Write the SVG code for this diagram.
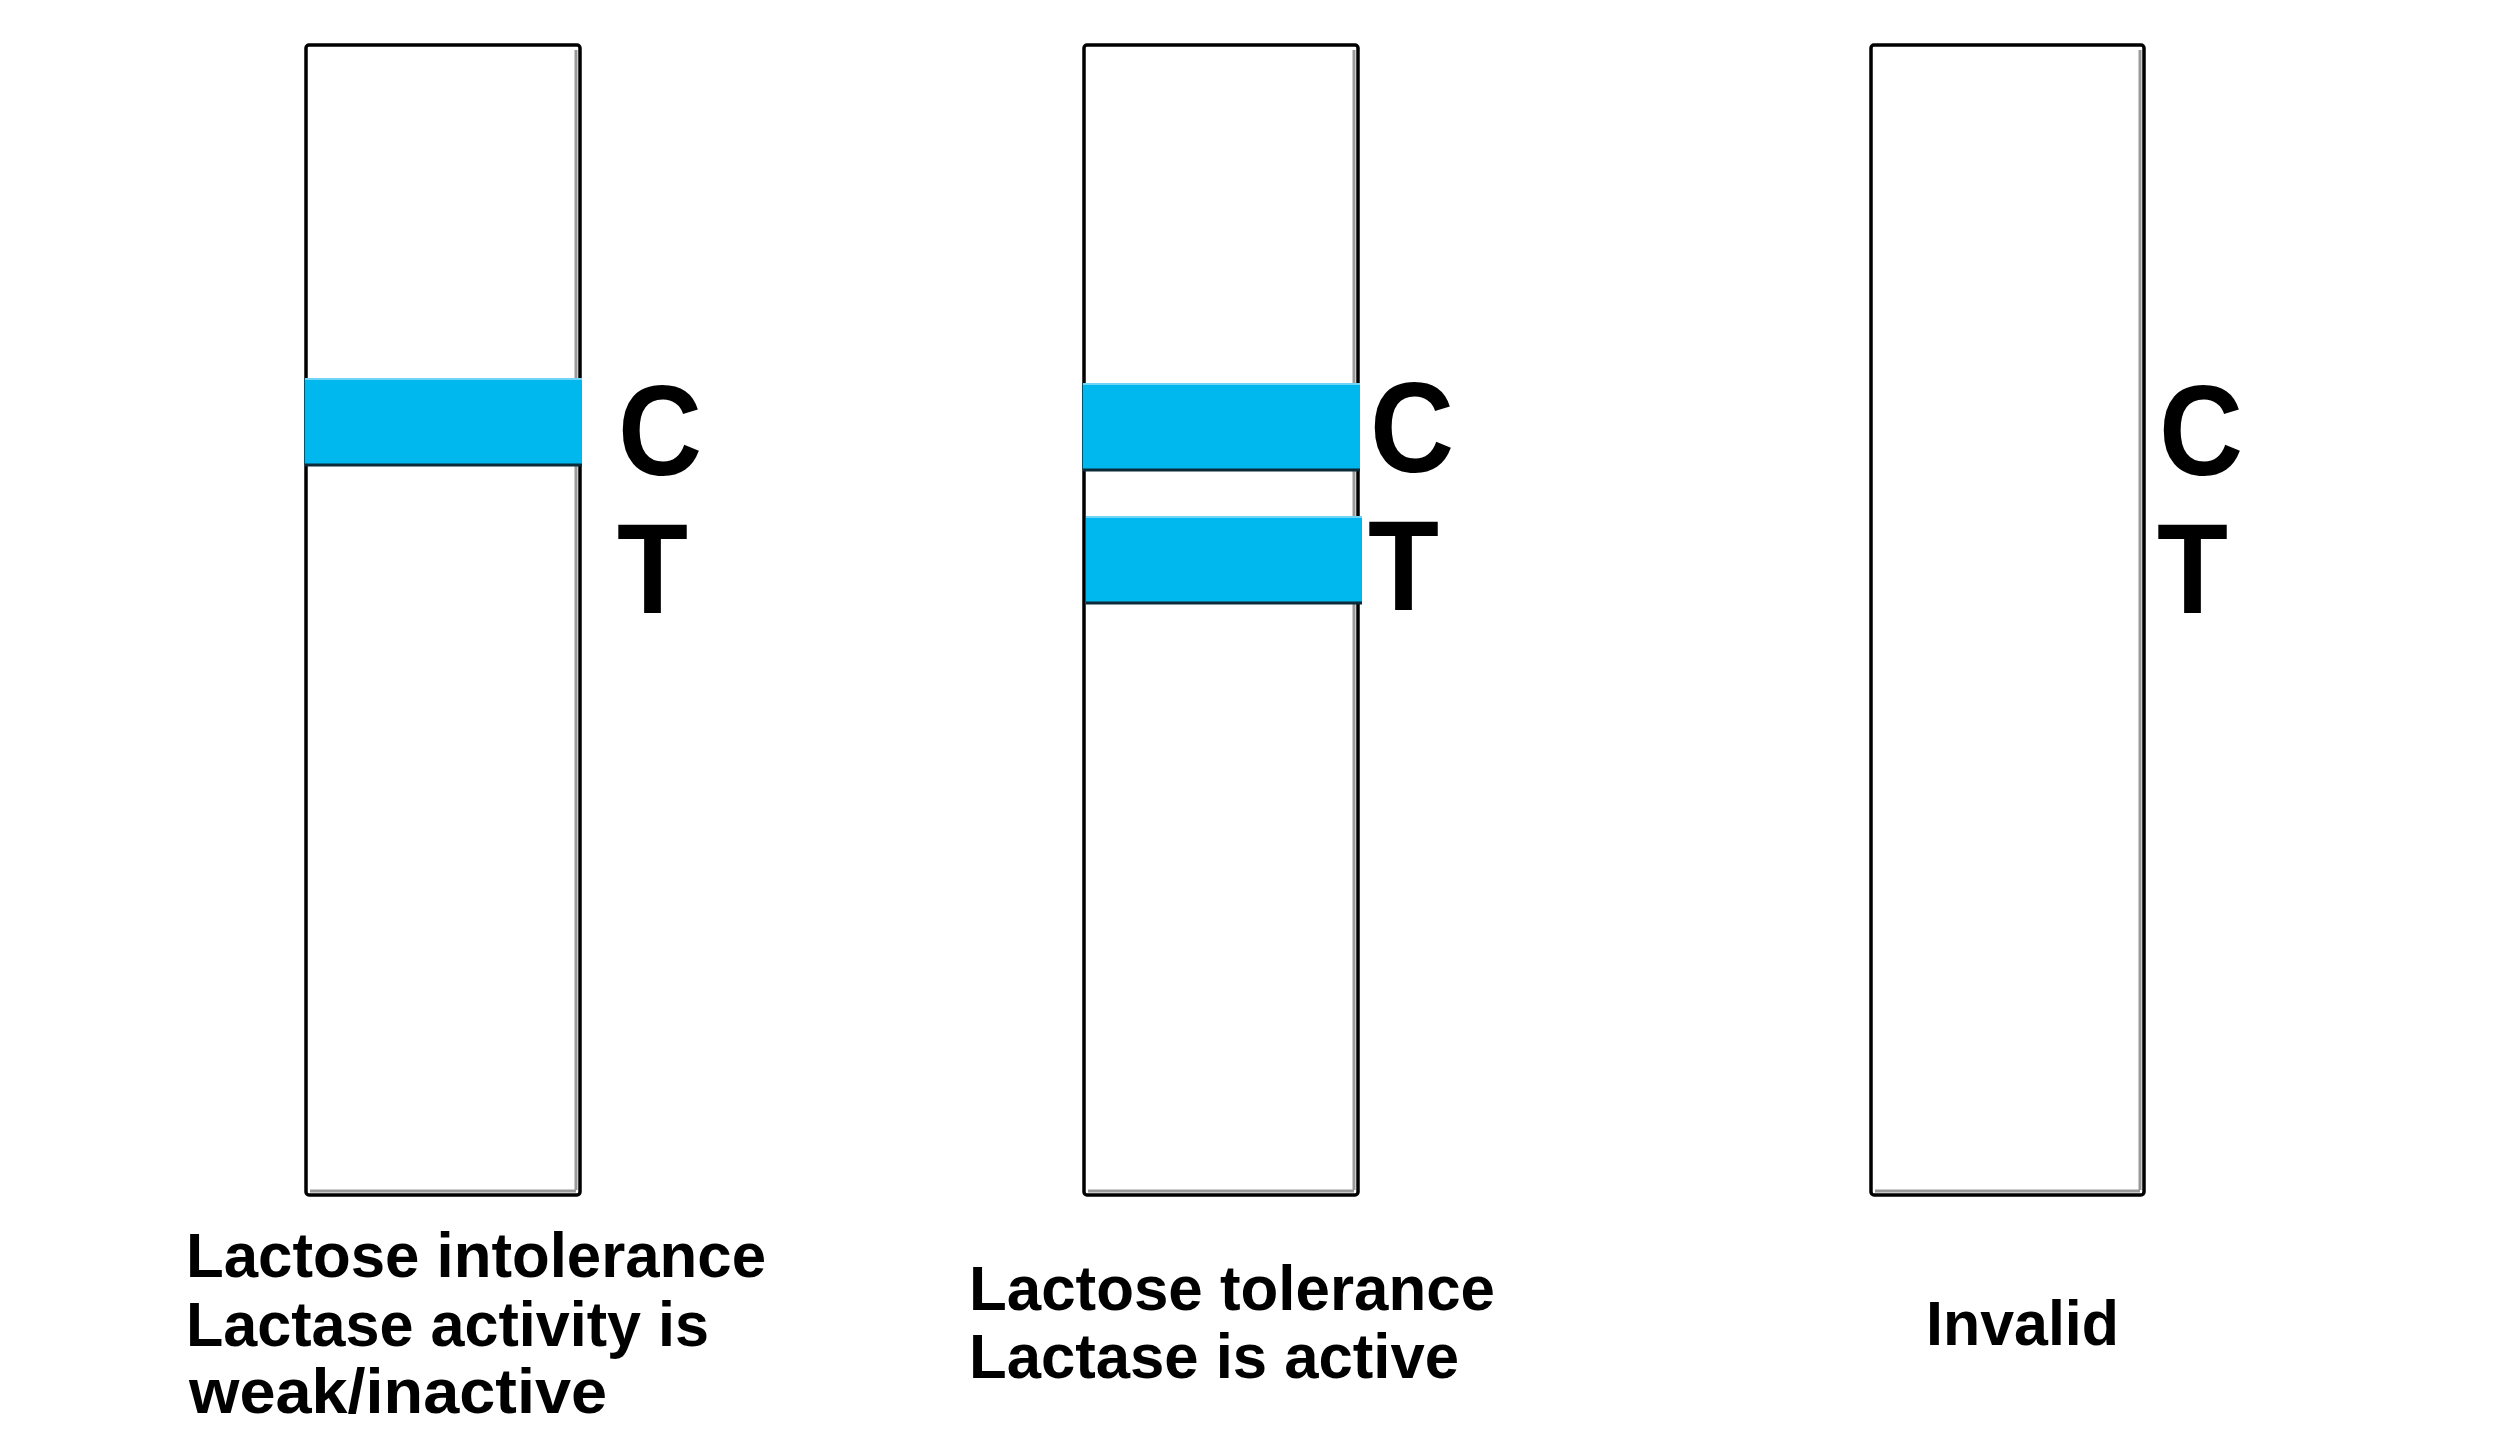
<svg xmlns="http://www.w3.org/2000/svg" width="2510" height="1445" viewBox="0 0 2510 1445">
  <style>
    .strip { fill: #ffffff; stroke: #000000; stroke-width: 3.5; }
    .shade { stroke: #9a9a9a; stroke-width: 3; fill: none; }
    .band { fill: #00b8ee; }
    .bandtop { stroke: #6fd4f6; stroke-width: 2; }
    .bandbot { stroke: #0d2a38; stroke-width: 3; }
    .letter { font-family: "Liberation Sans", Arial, sans-serif; font-weight: bold; font-size: 128px; fill: #000; }
    .label { font-family: "Liberation Sans", Arial, sans-serif; font-weight: bold; font-size: 63px; fill: #000; }
  </style>
  <rect width="2510" height="1445" fill="#ffffff"/>

  <g id="strip-intolerance">
    <rect class="strip" x="306" y="45" width="274" height="1150" rx="3"/>
    <line class="shade" x1="576" y1="50" x2="576" y2="1190"/>
    <line class="shade" x1="310" y1="1191" x2="576" y2="1191"/>
    <rect class="band" x="305" y="378" width="277" height="88"/>
    <line class="bandtop" x1="305" y1="379" x2="582" y2="379"/>
    <line class="bandbot" x1="305" y1="465" x2="582" y2="465"/>
    <text class="letter" x="618" y="475" textLength="84" lengthAdjust="spacingAndGlyphs">C</text>
    <text class="letter" x="617" y="613" textLength="71" lengthAdjust="spacingAndGlyphs">T</text>
    <text class="label" x="186" y="1277" textLength="580" lengthAdjust="spacingAndGlyphs">Lactose intolerance</text>
    <text class="label" x="186" y="1346" textLength="523" lengthAdjust="spacingAndGlyphs">Lactase activity is</text>
    <text class="label" x="189" y="1413" textLength="418" lengthAdjust="spacingAndGlyphs">weak/inactive</text>
  </g>

  <g id="strip-tolerance">
    <rect class="strip" x="1084" y="45" width="274" height="1150" rx="3"/>
    <line class="shade" x1="1354" y1="50" x2="1354" y2="1190"/>
    <line class="shade" x1="1088" y1="1191" x2="1354" y2="1191"/>
    <rect class="band" x="1083" y="383" width="277" height="88"/>
    <line class="bandtop" x1="1083" y1="384" x2="1360" y2="384"/>
    <line class="bandbot" x1="1083" y1="470" x2="1360" y2="470"/>
    <rect class="band" x="1086" y="516" width="276" height="88"/>
    <line class="bandtop" x1="1086" y1="517" x2="1362" y2="517"/>
    <line class="bandbot" x1="1086" y1="603" x2="1362" y2="603"/>
    <text class="letter" x="1370" y="472" textLength="84" lengthAdjust="spacingAndGlyphs">C</text>
    <text class="letter" x="1368" y="610" textLength="71" lengthAdjust="spacingAndGlyphs">T</text>
    <text class="label" x="969" y="1310" textLength="526" lengthAdjust="spacingAndGlyphs">Lactose tolerance</text>
    <text class="label" x="969" y="1378" textLength="490" lengthAdjust="spacingAndGlyphs">Lactase is active</text>
  </g>

  <g id="strip-invalid">
    <rect class="strip" x="1871" y="45" width="273" height="1150" rx="3"/>
    <line class="shade" x1="2140" y1="50" x2="2140" y2="1190"/>
    <line class="shade" x1="1875" y1="1191" x2="2140" y2="1191"/>
    <text class="letter" x="2159" y="475" textLength="84" lengthAdjust="spacingAndGlyphs">C</text>
    <text class="letter" x="2157" y="613" textLength="71" lengthAdjust="spacingAndGlyphs">T</text>
    <text class="label" x="1926" y="1345" textLength="193" lengthAdjust="spacingAndGlyphs">Invalid</text>
  </g>

  <g id="connectors"></g>
</svg>
